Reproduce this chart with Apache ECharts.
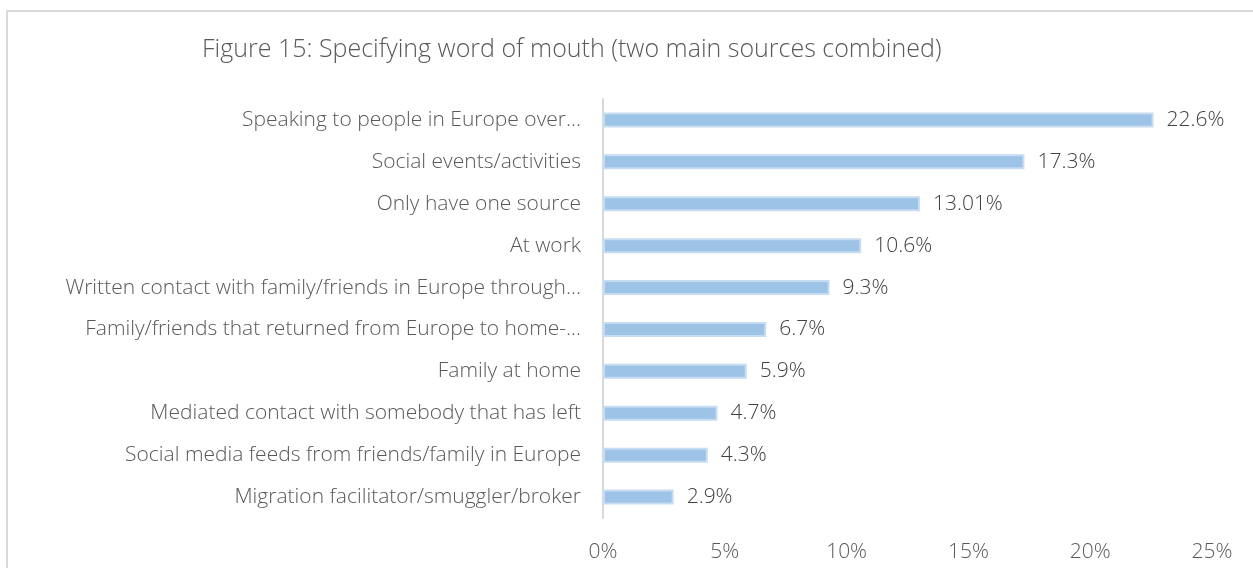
<!DOCTYPE html>
<html>
<head>
<meta charset="utf-8">
<script src="https://cdn.jsdelivr.net/npm/echarts@6/dist/echarts.min.js"></script>
<style>
  html, body { margin: 0; padding: 0; background: #fff; }
  #chart { width: 1253px; height: 568px; }
</style>
</head>
<body>
<div id="chart"></div>
<script>
const categories = [
  'Speaking to people in Europe over...',
  'Social events/activities',
  'Only have one source',
  'At work',
  'Written contact with family/friends in Europe through...',
  'Family/friends that returned from Europe to home-...',
  'Family at home',
  'Mediated contact with somebody that has left',
  'Social media feeds from friends/family in Europe',
  'Migration facilitator/smuggler/broker'
];
const shares = [22.6, 17.3, 13.01, 10.6, 9.3, 6.7, 5.9, 4.7, 4.3, 2.9];
const tickLabels = ['0%', '5%', '10%', '15%', '20%', '25%'];

const FONT = '"Open Sans", sans-serif';
const chart = echarts.init(document.getElementById('chart'));
chart.setOption({
  animation: false,
  backgroundColor: '#fff',
  title: {
    text: 'Figure 15: Specifying word of mouth (two main sources combined)',
    left: 197,
    top: 32,
    textStyle: { fontFamily: FONT, fontWeight: 300, fontSize: 25, color: '#595959' }
  },
  graphic: [{
    type: 'rect',
    shape: { x: 7, y: 11, width: 1270, height: 600 },
    style: { fill: 'none', stroke: '#d9d9d9', lineWidth: 2 },
    silent: true
  }],
  grid: { left: 603, right: 41, top: 99, bottom: 50, containLabel: false },
  xAxis: {
    type: 'value',
    min: 0,
    max: 25,
    interval: 5,
    splitLine: { show: false },
    axisLine: { show: false },
    axisTick: { show: false },
    axisLabel: {
      margin: 24,
      fontFamily: FONT, fontWeight: 300, fontSize: 21, color: '#595959',
      formatter: v => tickLabels[Math.round(v / 5)]
    }
  },
  yAxis: {
    type: 'category',
    data: categories,
    inverse: true,
    axisLine: { show: true, lineStyle: { color: '#d9d9d9', width: 2 } },
    axisTick: { show: false },
    axisLabel: {
      margin: 22,
      fontFamily: FONT, fontWeight: 300, fontSize: 21, color: '#595959'
    }
  },
  series: [{
    type: 'bar',
    data: shares,
    barWidth: 15,
    itemStyle: { color: '#9dc3e6', borderColor: '#c5dcf1', borderWidth: 2 },
    label: {
      show: true,
      position: 'right',
      distance: 13,
      fontFamily: FONT, fontWeight: 300, fontSize: 21, color: '#404040',
      formatter: p => p.value + '%'
    }
  }]
});
</script>
</body>
</html>
